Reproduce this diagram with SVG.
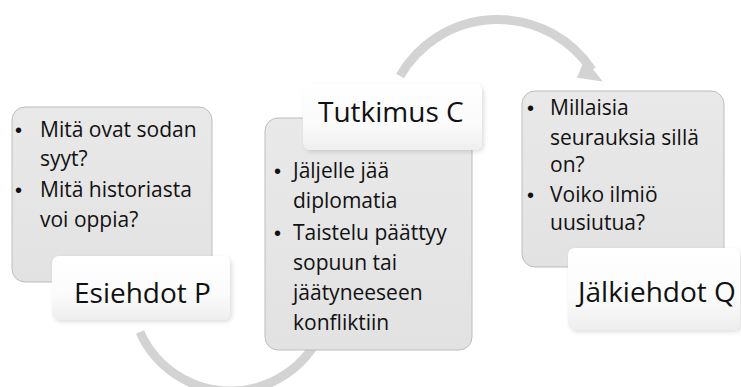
<svg xmlns="http://www.w3.org/2000/svg" width="741" height="387" viewBox="0 0 741 387">
<style>
.box{fill:url(#gbox);stroke:#bdbdbd;stroke-width:1}
.lbl{fill:url(#wbox);filter:url(#sh)}
.t{font-family:"Open Sans","Liberation Sans",sans-serif;font-size:21px;fill:#111}
.b{font-family:"Liberation Sans",sans-serif;font-size:20px;fill:#111}
.h{font-family:"Open Sans","Liberation Sans",sans-serif;font-size:28px;fill:#111}
.arc{fill:none;stroke:#d3d3d3;stroke-width:9}
</style>
<defs>
<linearGradient id="gbox" x1="0" y1="0" x2="0" y2="1"><stop offset="0" stop-color="#e9e9e9"/><stop offset="1" stop-color="#e2e2e2"/></linearGradient>
<linearGradient id="wbox" x1="0" y1="0" x2="0" y2="1"><stop offset="0" stop-color="#ffffff"/><stop offset="0.6" stop-color="#fbfbfb"/><stop offset="1" stop-color="#eeeeee"/></linearGradient>
<filter id="sh" x="-10%" y="-10%" width="130%" height="140%"><feDropShadow dx="2" dy="2" stdDeviation="2" flood-color="#000" flood-opacity="0.13"/></filter>
</defs>
<g id="connectors">
<path class="arc" d="M400,76 A113,113 0 0 1 592,70"/>
<polygon points="583,60 604,80 578,80" fill="#d3d3d3" transform="rotate(8 593 72)"/>
<path class="arc" d="M140,332 A99,99 0 0 0 322,330"/>
</g>
<g id="esiehdot">
<rect class="box" x="12" y="107" width="200" height="175" rx="13"/>
<text class="b" x="15" y="137">•</text><text class="t" x="40" y="137">Mitä ovat sodan</text>
<text class="t" x="40" y="166">syyt?</text>
<text class="b" x="15" y="197">•</text><text class="t" x="40" y="197">Mitä historiasta</text>
<text class="t" x="40" y="227">voi oppia?</text>
<rect class="lbl" x="52" y="256" width="178" height="64" rx="7"/>
<text class="h" x="74" y="303">Esiehdot P</text>
</g>
<g id="tutkimus">
<rect class="box" x="265" y="118" width="207" height="232" rx="13"/>
<rect class="lbl" x="303" y="84" width="179" height="66" rx="7"/>
<text class="h" x="318" y="122">Tutkimus C</text>
<text class="b" x="274" y="178">•</text><text class="t" x="293" y="178">Jäljelle jää</text>
<text class="t" x="293" y="208">diplomatia</text>
<text class="b" x="274" y="240">•</text><text class="t" x="293" y="240">Taistelu päättyy</text>
<text class="t" x="293" y="270">sopuun tai</text>
<text class="t" x="293" y="300">jäätyneeseen</text>
<text class="t" x="293" y="330">konfliktiin</text>
</g>
<g id="jalkiehdot">
<rect class="box" x="522" y="91" width="202" height="176" rx="13"/>
<text class="b" x="527" y="115">•</text><text class="t" x="550" y="115">Millaisia</text>
<text class="t" x="550" y="145">seurauksia sillä</text>
<text class="t" x="550" y="172">on?</text>
<text class="b" x="527" y="202">•</text><text class="t" x="550" y="202">Voiko ilmiö</text>
<text class="t" x="550" y="230">uusiutua?</text>
<rect class="lbl" x="568" y="248" width="172" height="82" rx="7"/>
<text class="h" x="578" y="302">Jälkiehdot Q</text>
</g>
</svg>
